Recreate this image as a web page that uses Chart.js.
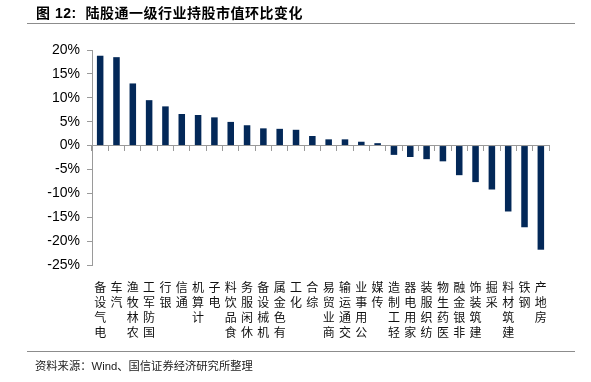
<!DOCTYPE html>
<html>
<head>
<meta charset="utf-8">
<script src="https://cdn.jsdelivr.net/npm/chart.js@4/dist/chart.umd.min.js"></script>
<style>
  html, body { margin: 0; padding: 0; background: #fff; }
  #wrap { position: relative; width: 591px; height: 382px; overflow: hidden; }
  #chart { position: absolute; left: 0; top: 0; }
  .title { position: absolute; left: 36px; top: 2px; font: bold 14px "Liberation Sans", "Noto Sans CJK SC", sans-serif; letter-spacing: 0.5px; color: #000; white-space: nowrap; }
  .rule { position: absolute; left: 27px; width: 548px; height: 1px; background: #8c8c8c; }
  .source { position: absolute; left: 35px; top: 357px; font: 11.3px "Liberation Sans", "Noto Sans CJK SC", sans-serif; color: #222; white-space: nowrap; }
</style>
</head>
<body>
<div id="wrap">
  <canvas id="chart" width="591" height="382"></canvas>
  <div class="title">图 12:&nbsp; 陆股通一级行业持股市值环比变化</div>
  <div class="rule" style="top:23px"></div>
  <div class="rule" style="top:351px"></div>
  <div class="source">资料来源：Wind、国信证券经济研究所整理</div>
</div>
<script>
const categories = ['电气设备','汽车','农林牧渔','国防军工','银行','通信','计算机','电子','食品饮料','休闲服务','机械设备','有色金属','化工','综合','商业贸易','交通运输','公用事业','传媒','轻工制造','家用电器','纺织服装','医药生物','非银金融','建筑装饰','采掘','建筑材料','钢铁','房地产'];
const changePct = [18.8,18.5,13.0,9.5,8.2,6.6,6.4,5.9,4.95,4.25,3.6,3.5,3.3,2.0,1.3,1.3,0.8,0.5,-1.95,-2.4,-2.85,-3.3,-6.2,-7.65,-9.2,-13.8,-17.1,-21.8];
const yTicks = [-25,-20,-15,-10,-5,0,5,10,15,20];

const axisGray = '#9a9a9a';

new Chart(document.getElementById('chart'), {
  type: 'bar',
  data: {
    labels: categories,
    datasets: [{
      data: changePct,
      xAxisID: 'x',
      yAxisID: 'y',
      backgroundColor: '#032858',
      borderWidth: 0,
      barPercentage: 0.4,
      categoryPercentage: 1
    }]
  },
  options: {
    responsive: false,
    animation: false,
    devicePixelRatio: 1,
    layout: { padding: { left: 0, right: 42, top: 50, bottom: 0 } },
    plugins: { legend: { display: false }, tooltip: { enabled: false }, title: { display: false } },
    scales: {
      x: {
        type: 'category',
        axis: 'x',
        position: { y: 0 },
        offset: true,
        ticks: { display: false },
        grid: { display: true, drawOnChartArea: false, drawTicks: true, tickLength: 5, color: axisGray, offset: true },
        border: { display: true, color: axisGray, width: 1 }
      },
      xl: {
        type: 'category',
        axis: 'x',
        position: 'bottom',
        offset: true,
        grid: { display: false },
        border: { display: false },
        ticks: {
          autoSkip: false,
          maxRotation: 0,
          minRotation: 0,
          padding: 7,
          color: '#111',
          font: { family: '"Noto Sans CJK SC", sans-serif', size: 12, lineHeight: '15px' },
          callback: function (value) {
            return this.getLabelForValue(value).split('').reverse();
          }
        },
        afterFit: function (scale) { scale.height = 117; }
      },
      y: {
        type: 'linear',
        position: 'left',
        min: -25,
        max: 20,
        afterBuildTicks: function (scale) { scale.ticks = yTicks.map(v => ({ value: v })); },
        ticks: {
          padding: 7,
          color: '#000',
          font: { family: '"Liberation Sans", Arial, sans-serif', size: 14 },
          callback: v => v + '%'
        },
        grid: { display: true, drawOnChartArea: false, drawTicks: true, tickLength: 5, color: axisGray },
        border: { display: true, color: axisGray, width: 1 },
        afterFit: function (scale) { scale.width = 92; }
      }
    }
  }
});
</script>
</body>
</html>
